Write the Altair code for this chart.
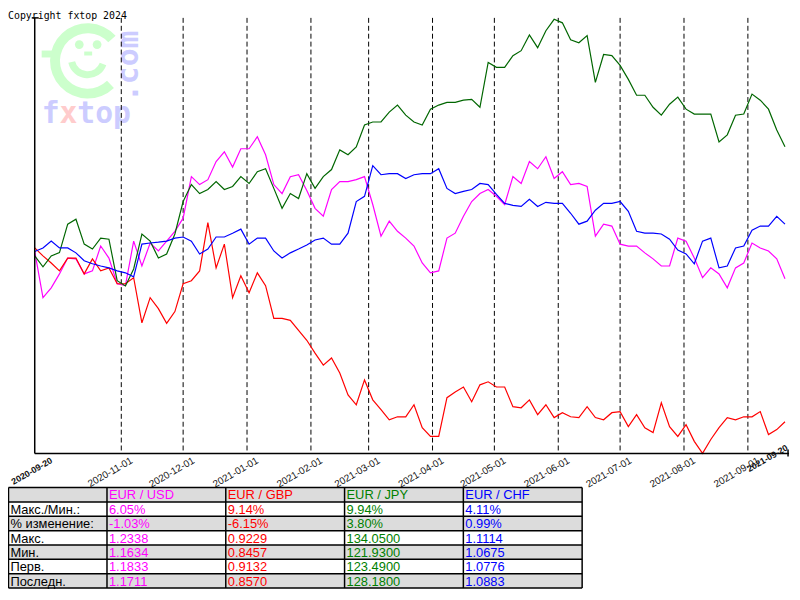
import altair as alt
import pandas as pd

START = "2020-09-20"
END = "2021-09-20"
STEP_DAYS = 4

pairs = ["EUR / USD", "EUR / GBP", "EUR / JPY", "EUR / CHF"]
line_colors = ["#ff00ff", "#ff0000", "#006600", "#0000ff"]
text_colors = ["#ff00ff", "#ff0000", "#008000", "#0000ff"]

# percent change vs first value, sampled every 4 days from 2020-09-20
eur_usd = [0.0, -1.69, -1.33, -0.82, -0.24, -0.27, -0.82, -0.71, 0.20, -0.24,
           -1.18, -1.25, 0.38, -0.53, 0.31, 0.02, 0.38, 0.74, 1.22, 2.74,
           2.45, 2.63, 3.29, 3.65, 3.09, 3.76, 3.76, 4.20, 3.54, 2.45,
           2.12, 2.74, 2.81, 2.23, 1.58, 1.29, 2.27, 2.56, 2.56, 2.63,
           2.74, 1.72, 0.56, 1.11, 0.74, 0.49, 0.20, -0.42, -0.78, -0.71,
           0.49, 0.67, 1.29, 1.83, 2.12, 2.27, 2.02, 1.72, 2.74, 2.49,
           3.29, 3.03, 3.47, 2.67, 2.92, 2.45, 2.49, 2.38, 0.56, 1.00,
           0.93, 0.27, 0.20, 0.20, -0.05, -0.27, -0.53, -0.53, 0.49, 0.38,
           -0.24, -0.96, -0.60, -0.82, -1.33, -0.60, -0.42, 0.31, 0.13, 0.02,
           -0.27, -1.00]
eur_gbp = [0.13, -0.16, -0.42, -0.71, -0.24, -0.24, -0.82, -0.27, -0.71, -0.60,
           -1.18, -1.18, -0.96, -2.61, -1.69, -2.09, -2.63, -2.20, -1.18, -1.07,
           -0.71, 1.06, -0.60, 0.27, -1.69, -0.89, -1.51, -0.78, -1.25, -2.45,
           -2.45, -2.52, -2.89, -3.25, -3.72, -4.16, -3.90, -4.45, -5.25, -5.61,
           -4.70, -5.43, -5.79, -6.16, -6.05, -6.05, -5.61, -6.45, -6.77, -6.77,
           -5.35, -5.14, -4.96, -5.50, -4.88, -4.77, -4.96, -4.96, -5.68, -5.72,
           -5.43, -5.97, -5.61, -6.08, -5.90, -6.05, -6.08, -5.68, -6.08, -6.16,
           -5.90, -5.86, -6.41, -5.97, -6.45, -6.63, -5.54, -6.41, -6.77, -6.34,
           -6.95, -7.39, -6.88, -6.45, -6.08, -6.16, -6.05, -6.05, -5.86, -6.70,
           -6.52, -6.23]
eur_jpy = [-0.16, -0.56, -0.16, -0.04, 1.00, 1.18, 0.27, 0.09, 0.49, 0.45,
           -1.07, -1.26, -0.64, 0.64, 0.38, -0.24, -0.09, 0.64, 1.83, 2.45,
           2.12, 2.27, 2.56, 2.27, 2.38, 2.74, 2.49, 2.92, 3.03, 2.31,
           1.58, 2.12, 1.94, 2.85, 2.31, 2.74, 3.00, 3.72, 3.54, 3.83,
           4.63, 4.74, 4.74, 5.10, 5.36, 4.99, 4.74, 4.63, 5.21, 5.36,
           5.46, 5.46, 5.54, 5.57, 5.28, 6.92, 6.74, 6.74, 7.17, 7.35,
           7.93, 7.46, 8.08, 8.50, 8.37, 7.75, 7.64, 7.90, 6.19, 7.21,
           7.17, 6.81, 6.30, 5.72, 5.72, 5.28, 4.99, 5.39, 5.65, 5.21,
           5.03, 5.03, 5.03, 4.01, 4.27, 4.99, 5.03, 5.76, 5.54, 5.21,
           4.45, 3.83]
eur_chf = [0.0, 0.13, 0.38, 0.13, 0.13, -0.05, -0.34, -0.45, -0.53, -0.60,
           -0.71, -0.78, -0.93, 0.27, 0.31, 0.34, 0.38, 0.49, 0.53, 0.38,
           -0.09, 0.09, 0.53, 0.53, 0.67, 0.82, 0.27, 0.49, 0.49, 0.02,
           -0.24, -0.05, 0.09, 0.24, 0.42, 0.49, 0.27, 0.27, 0.67, 1.83,
           2.02, 3.14, 2.81, 2.85, 2.85, 2.67, 2.81, 2.85, 2.85, 3.03,
           2.31, 2.12, 2.20, 2.27, 2.49, 2.45, 2.09, 1.76, 1.69, 1.65,
           1.91, 1.65, 1.80, 1.76, 1.76, 1.40, 1.00, 1.11, 1.51, 1.76,
           1.76, 1.83, 1.47, 0.74, 0.67, 0.67, 0.64, 0.45, 0.05, -0.09,
           -0.45, 0.38, 0.49, -0.60, -0.53, 0.13, 0.20, 0.78, 0.93, 0.93,
           1.29, 1.00]

month_lines = ["2020-11-01", "2020-12-01", "2021-01-01", "2021-02-01", "2021-03-01",
               "2021-04-01", "2021-05-01", "2021-06-01", "2021-07-01", "2021-08-01",
               "2021-09-01"]

row_labels = ["Макс./Мин.:", "% изменение:", "Макс.", "Мин.", "Перв.", "Последн."]
maxmin_pct = ["6.05%", "9.14%", "9.94%", "4.11%"]
change_pct = ["-1.03%", "-6.15%", "3.80%", "0.99%"]
rate_max = [1.2338, 0.9229, 134.0500, 1.1114]
rate_min = [1.1634, 0.8457, 121.9300, 1.0675]
rate_first = [1.1833, 0.9132, 123.4900, 1.0776]
rate_last = [1.1711, 0.8570, 128.1800, 1.0883]

copyright_text = "Copyright fxtop 2024"

# ---------------------------------------------------------------- layout
W, H = 760, 440
t0 = pd.Timestamp(START)


def day(d):
    return (pd.Timestamp(d) - t0).days


series = [eur_usd, eur_gbp, eur_jpy, eur_chf]
dates = pd.date_range(START, periods=len(eur_usd), freq=f"{STEP_DAYS}D")
recs = []
for p, vals in zip(pairs, series):
    for d, v in zip(dates, vals):
        recs.append({"pair": p, "date": d.strftime("%Y-%m-%d"),
                     "day": (d - t0).days, "pct": v})
df = pd.DataFrame(recs)

y_lo = min((mn / f - 1) * 100 for mn, f in zip(rate_min, rate_first))
y_hi = max((mx / f - 1) * 100 for mx, f in zip(rate_max, rate_first))
xs = alt.Scale(domain=[0, day(END)], nice=False, zero=False)
ys = alt.Scale(domain=[y_lo, y_hi], nice=False, zero=False)
one = pd.DataFrame({"k": [0]})

WM_GREEN = "#ccffcc"
WM_BLUE = "#ccccff"
WM_PINK = "#ffcccc"

layers = []

# watermark
layers.append(alt.Chart(one).mark_arc(radius=38, radius2=28, theta=2.37, theta2=7.12,
                                      color=WM_GREEN).encode(x=alt.value(53.5), y=alt.value(43.5)))
layers.append(alt.Chart(one).mark_arc(radius=20, radius2=13, theta=1.92, theta2=4.5,
                                      color=WM_GREEN).encode(x=alt.value(53.5), y=alt.value(41)))
for ex in (45, 63):
    layers.append(alt.Chart(one).mark_circle(size=78, color=WM_GREEN, opacity=1)
                  .encode(x=alt.value(ex), y=alt.value(27)))
layers.append(alt.Chart(one).mark_rect(color=WM_GREEN).encode(
    x=alt.value(50), x2=alt.value(58), y=alt.value(34), y2=alt.value(38)))
layers.append(alt.Chart(one).mark_rect(color=WM_GREEN).encode(
    x=alt.value(7), x2=alt.value(18), y=alt.value(33), y2=alt.value(40)))
for txt, tx, col in (("f", 7, WM_BLUE), ("x", 25, WM_PINK), ("top", 43, WM_BLUE)):
    layers.append(alt.Chart(one).mark_text(font="DejaVu Sans Mono", fontSize=30, fontWeight="bold",
                                           align="left", baseline="alphabetic", color=col)
                  .encode(x=alt.value(tx), y=alt.value(106), text=alt.value(txt)))
layers.append(alt.Chart(one).mark_text(font="DejaVu Sans Mono", fontSize=30, fontWeight="bold",
                                       align="left", baseline="alphabetic", angle=270, color=WM_BLUE)
              .encode(x=alt.value(104), y=alt.value(85), text=alt.value(".com")))

# dashed month lines
vl = pd.DataFrame({"date": month_lines, "day": [day(d) for d in month_lines]})
layers.append(alt.Chart(vl).mark_rule(color="black", strokeDash=[5, 3], strokeWidth=1).encode(
    x=alt.X("day:Q", scale=xs, axis=None), y=alt.value(0), y2=alt.value(H)))

# series lines
layers.append(alt.Chart(df).mark_line(strokeWidth=1.2).encode(
    x=alt.X("day:Q", scale=xs, axis=None),
    y=alt.Y("pct:Q", scale=ys, axis=None),
    color=alt.Color("pair:N", scale=alt.Scale(domain=pairs, range=line_colors), legend=None),
    order=alt.Order("day:Q")))

# axes
layers.append(alt.Chart(one).mark_rule(color="black", strokeWidth=1.5).encode(
    x=alt.value(0), y=alt.value(0), y2=alt.value(H)))
layers.append(alt.Chart(one).mark_rule(color="black", strokeWidth=1.5).encode(
    x=alt.value(-3), x2=alt.value(4), y=alt.value(0)))
layers.append(alt.Chart(one).mark_rule(color="black", strokeWidth=1.5).encode(
    x=alt.value(0), x2=alt.value(W + 2), y=alt.value(H)))
layers.append(alt.Chart(one).mark_rule(color="black", strokeWidth=1.5).encode(
    x=alt.value(W + 1), y=alt.value(H - 4), y2=alt.value(H + 3)))

# x tick labels
lab_reg = pd.DataFrame({"label": month_lines, "day": [day(d) for d in month_lines]})
lab_start = pd.DataFrame({"label": [START], "day": [day(START)]})
lab_end = pd.DataFrame({"label": [END], "day": [day(END)]})
for dat, wt, fs, ddx, ddy in ((lab_reg, "normal", 10, 6, 6),
                              (lab_start, "bold", 9, 11.5, 10),
                              (lab_end, "bold", 9, 3.3, -9.7)):
    layers.append(alt.Chart(dat).mark_text(angle=330, align="right", baseline="top", dx=ddx, dy=ddy,
                                           fontSize=fs, font="Liberation Sans", fontWeight=wt,
                                           color="#111111").encode(
        x=alt.X("day:Q", scale=xs, axis=None), y=alt.value(H), text="label:N"))

# copyright
layers.append(alt.Chart(one).mark_text(font="DejaVu Sans Mono", fontSize=10, align="left",
                                       baseline="alphabetic", color="black").encode(
    x=alt.value(-27), y=alt.value(1.5), text=alt.value(copyright_text)))

# ---------------------------------------------------------------- table
T_TOP = 474.5
ROW_H = 14.5
col_edges = [-26.5, 73, 193, 313, 433, 553]
n_rows = 1 + len(row_labels)

bg = pd.DataFrame({
    "x1": [col_edges[0]] * n_rows,
    "x2": [col_edges[-1]] * n_rows,
    "y1": [T_TOP + r * ROW_H for r in range(n_rows)],
    "y2": [T_TOP + (r + 1) * ROW_H for r in range(n_rows)],
    "fill": ["#dcdcdc" if r % 2 == 0 else "#ffffff" for r in range(n_rows)],
})
layers.append(alt.Chart(bg).mark_rect().encode(
    x=alt.X("x1:Q", scale=None), x2="x2:Q", y=alt.Y("y1:Q", scale=None), y2="y2:Q",
    color=alt.Color("fill:N", scale=None)))

hl = pd.DataFrame({"x1": [col_edges[0]] * (n_rows + 1), "x2": [col_edges[-1]] * (n_rows + 1),
                   "y": [T_TOP + r * ROW_H for r in range(n_rows + 1)]})
layers.append(alt.Chart(hl).mark_rule(color="black", strokeWidth=1.5).encode(
    x=alt.X("x1:Q", scale=None), x2="x2:Q", y=alt.Y("y:Q", scale=None)))
vlt = pd.DataFrame({"x": col_edges, "y1": [T_TOP] * len(col_edges),
                    "y2": [T_TOP + n_rows * ROW_H] * len(col_edges)})
layers.append(alt.Chart(vlt).mark_rule(color="black", strokeWidth=1.5).encode(
    x=alt.X("x:Q", scale=None), y=alt.Y("y1:Q", scale=None), y2="y2:Q"))

table_rows = [
    maxmin_pct,
    change_pct,
    [f"{v:.4f}" for v in rate_max],
    [f"{v:.4f}" for v in rate_min],
    [f"{v:.4f}" for v in rate_first],
    [f"{v:.4f}" for v in rate_last],
]
cells = []
for c, p in enumerate(pairs):
    cells.append({"tx": col_edges[c + 1] + 2, "ty": T_TOP + 12, "t": p, "c": text_colors[c]})
for r, (lbl, vals) in enumerate(zip(row_labels, table_rows), start=1):
    cells.append({"tx": col_edges[0] + 2, "ty": T_TOP + r * ROW_H + 12, "t": lbl, "c": "#000000"})
    for c, v in enumerate(vals):
        cells.append({"tx": col_edges[c + 1] + 2, "ty": T_TOP + r * ROW_H + 12, "t": v,
                      "c": text_colors[c]})
cells = pd.DataFrame(cells)
layers.append(alt.Chart(cells).mark_text(align="left", baseline="alphabetic", fontSize=13,
                                         font="Liberation Sans").encode(
    x=alt.X("tx:Q", scale=None), y=alt.Y("ty:Q", scale=None), text="t:N",
    color=alt.Color("c:N", scale=None)))

chart = alt.layer(*layers).resolve_scale(
    x="independent", y="independent", color="independent"
).properties(
    width=W, height=H,
    padding={"left": 27, "top": 7, "right": 5, "bottom": 137},
    autosize=alt.AutoSizeParams(type="none"),
).configure_view(stroke=None)

chart.save("out.html", embed_options={"renderer": "svg", "actions": False})
